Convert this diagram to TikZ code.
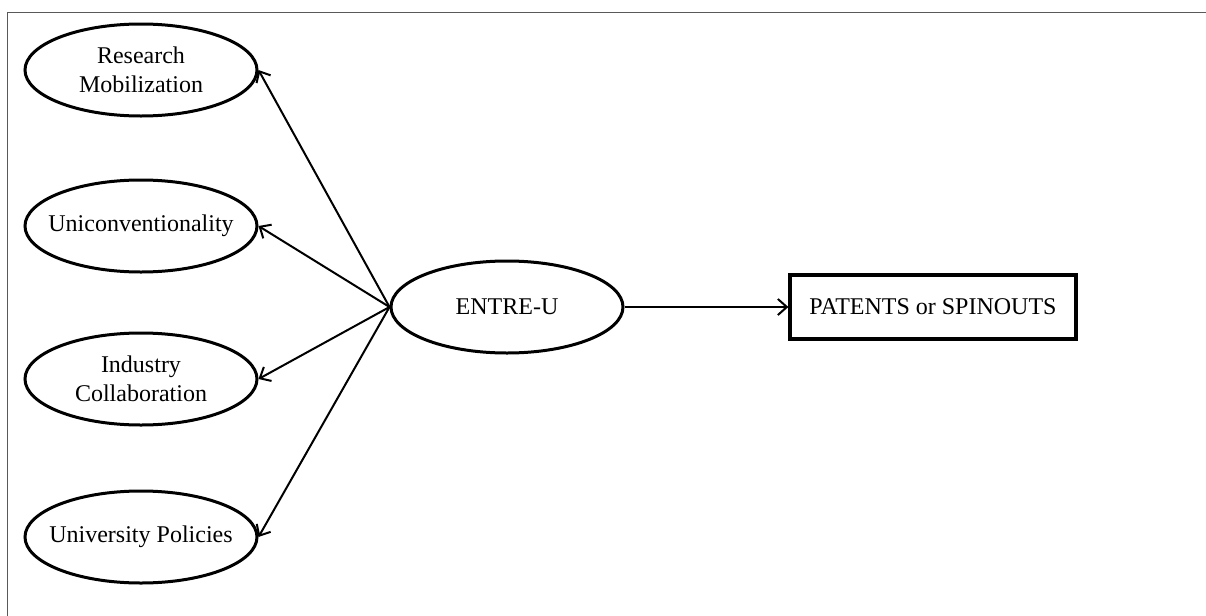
\documentclass[tikz,border=0pt]{standalone}
\usepackage{fontspec}
\setmainfont{Liberation Serif}
\usetikzlibrary{shapes.geometric}
\usetikzlibrary{arrows.meta}
\tikzset{
	factor/.style={ellipse, draw, line width=1.5pt, minimum width=116pt, minimum height=46pt, inner xsep=-8pt, inner ysep=0pt, align=center, font=\fontsize{12}{14.5}\selectfont},
	outcome/.style={rectangle, draw, line width=1.6pt, minimum width=143pt, minimum height=32pt, inner sep=0pt, font=\fontsize{12}{14.5}\selectfont},
	link/.style={-{Straight Barb[length=4.5pt, width=8pt]}, line width=1pt}
}

\begin{document}
\begin{tikzpicture}[x=0.5pt, y=-0.5pt]
%%%%%%%%%%%%%%%%%%
\useasboundingbox (0,0) rectangle (1206,616);

%Frame
	\draw[gray!70!black, line width=0.6pt] (7.5,616) -- (7.5,12.5) -- (1206,12.5);

%Dimensions
	\node[factor] (rm) at (141,70) {Research\\Mobilization};
	\node[factor] (uni) at (141,226) {Uniconventionality};
	\node[factor] (ind) at (141,379) {Industry\\Collaboration};
	\node[factor] (pol) at (141,537) {University Policies};

%Construct and outcome
	\node[factor] (entre) at (507,307) {ENTRE-U};
	\node[outcome] (pat) at (933,307) {PATENTS or SPINOUTS};

% Connect nodes
	\foreach \f in {rm,uni,ind,pol}
	{
		\draw[link] (entre.west) -- (\f.east);
	}
	\draw[link] (entre.east) -- (pat.west);

\end{tikzpicture}
\end{document}
